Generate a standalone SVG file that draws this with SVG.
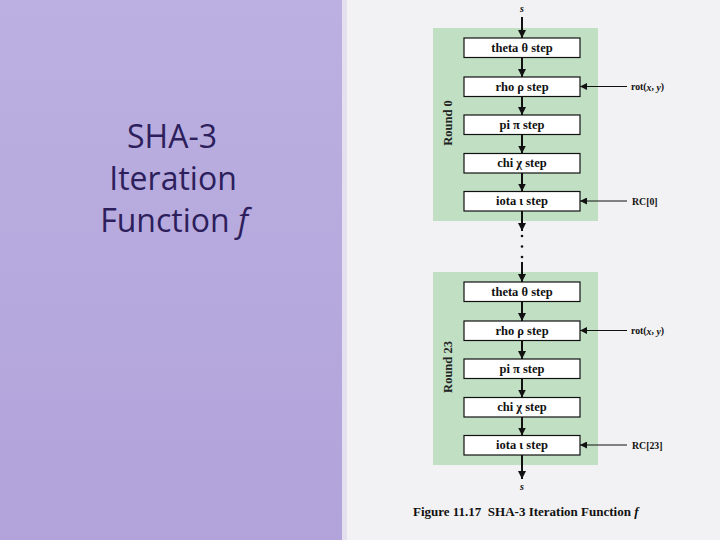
<svg xmlns="http://www.w3.org/2000/svg" width="720" height="540" viewBox="0 0 720 540">
<defs>
<linearGradient id="purp" x1="0" y1="0" x2="0" y2="1">
<stop offset="0" stop-color="#bbb0e1"/>
<stop offset="1" stop-color="#b2a3da"/>
</linearGradient>
<marker id="ah" viewBox="0 0 10 10" refX="10" refY="5" markerWidth="4" markerHeight="4" markerUnits="strokeWidth" orient="auto">
<path d="M0,0 L10,5 L0,10 Z" fill="#111"/>
</marker>
<marker id="ahs" viewBox="0 0 10 10" refX="10" refY="5" markerWidth="7" markerHeight="7" markerUnits="strokeWidth" orient="auto">
<path d="M0,0 L10,5 L0,10 Z" fill="#111"/>
</marker>
</defs>
<style>
.box{fill:#fff;stroke:#111;stroke-width:1.2}
.round{fill:#c0dfc3}
.lbl{font-family:"Liberation Serif",serif;font-weight:bold;font-size:12.5px;fill:#111;text-anchor:middle;dominant-baseline:central}
.side{font-family:"Liberation Serif",serif;font-weight:bold;font-size:9.8px;fill:#111;dominant-baseline:central}
.rl{font-family:"Liberation Serif",serif;font-weight:bold;font-size:12.5px;fill:#222;text-anchor:middle;dominant-baseline:central}
.flow{stroke:#111;stroke-width:2;fill:none;marker-end:url(#ah)}
.inp{stroke:#111;stroke-width:1;fill:none;marker-end:url(#ahs)}
.title{font-family:"Open Sans","Noto Sans",sans-serif;font-size:32px;fill:#2d1e5c;text-anchor:middle}
</style>
<rect x="0" y="0" width="720" height="540" fill="#f2f1f3"/>
<rect x="0" y="0" width="342" height="540" fill="url(#purp)"/>
<rect x="342" y="0" width="5" height="540" fill="#e4e0ef"/>

<g id="title">
<text class="title" x="172" y="148">SHA-3</text>
<text class="title" x="173" y="190">Iteration</text>
<text class="title" x="174" y="232">Function <tspan font-style="italic">f</tspan></text>
</g>

<g id="round0">
<rect class="round" x="433" y="28" width="165" height="193"/>
<text class="rl" transform="translate(448,123) rotate(-90)">Round 0</text>
</g>
<g id="round23">
<rect class="round" x="433" y="272" width="165" height="193"/>
<text class="rl" transform="translate(448,367) rotate(-90)">Round 23</text>
</g>

<g id="r0-theta"><rect class="box" x="464" y="38" width="116" height="19.5"/><text class="lbl" x="522" y="47.5">theta θ step</text></g>
<g id="r0-rho"><rect class="box" x="464" y="77" width="116" height="19.5"/><text class="lbl" x="522" y="86.5">rho ρ step</text></g>
<g id="r0-pi"><rect class="box" x="464" y="115" width="116" height="19.5"/><text class="lbl" x="522" y="124.5">pi π step</text></g>
<g id="r0-chi"><rect class="box" x="464" y="153.5" width="116" height="19.5"/><text class="lbl" x="522" y="163">chi χ step</text></g>
<g id="r0-iota"><rect class="box" x="464" y="191.5" width="116" height="19.5"/><text class="lbl" x="522" y="201">iota ι step</text></g>

<g id="r23-theta"><rect class="box" x="464" y="282" width="116" height="19.5"/><text class="lbl" x="522" y="291.5">theta θ step</text></g>
<g id="r23-rho"><rect class="box" x="464" y="321" width="116" height="19.5"/><text class="lbl" x="522" y="330.5">rho ρ step</text></g>
<g id="r23-pi"><rect class="box" x="464" y="359" width="116" height="19.5"/><text class="lbl" x="522" y="368.5">pi π step</text></g>
<g id="r23-chi"><rect class="box" x="464" y="397.5" width="116" height="19.5"/><text class="lbl" x="522" y="407">chi χ step</text></g>
<g id="r23-iota"><rect class="box" x="464" y="435.5" width="116" height="19.5"/><text class="lbl" x="522" y="445">iota ι step</text></g>

<g id="labels">
<text x="522" y="12" font-family="Liberation Serif,serif" font-style="italic" font-weight="bold" font-size="10" text-anchor="middle" fill="#111">s</text>
<text x="522" y="490" font-family="Liberation Serif,serif" font-style="italic" font-weight="bold" font-size="10" text-anchor="middle" fill="#111">s</text>
<text class="side" x="631" y="86.5">rot(<tspan font-style="italic">x</tspan>, <tspan font-style="italic">y</tspan>)</text>
<text class="side" x="632" y="201">RC[0]</text>
<text class="side" x="631" y="330.5">rot(<tspan font-style="italic">x</tspan>, <tspan font-style="italic">y</tspan>)</text>
<text class="side" x="632" y="445">RC[23]</text>
</g>

<g id="connectors">
<line class="flow" x1="522" y1="17" x2="522" y2="38"/>
<line class="flow" x1="522" y1="57.5" x2="522" y2="77"/>
<line class="flow" x1="522" y1="96.5" x2="522" y2="115"/>
<line class="flow" x1="522" y1="134.5" x2="522" y2="153.5"/>
<line class="flow" x1="522" y1="173" x2="522" y2="191.5"/>
<line class="flow" x1="522" y1="211" x2="522" y2="231"/>
<circle cx="522" cy="236" r="1.3" fill="#111"/>
<circle cx="522" cy="246.5" r="1.3" fill="#111"/>
<circle cx="522" cy="257" r="1.3" fill="#111"/>
<line class="flow" x1="522" y1="262" x2="522" y2="282"/>
<line class="flow" x1="522" y1="301.5" x2="522" y2="321"/>
<line class="flow" x1="522" y1="340.5" x2="522" y2="359"/>
<line class="flow" x1="522" y1="378.5" x2="522" y2="397.5"/>
<line class="flow" x1="522" y1="417" x2="522" y2="435.5"/>
<line class="flow" x1="522" y1="455" x2="522" y2="479"/>
<line class="inp" x1="627" y1="86.5" x2="580" y2="86.5"/>
<line class="inp" x1="627" y1="201" x2="580" y2="201"/>
<line class="inp" x1="627" y1="330.5" x2="580" y2="330.5" stroke="#666"/>
<line class="inp" x1="627" y1="445" x2="580" y2="445"/>
</g>

<g id="caption">
<text x="413" y="516" font-family="Liberation Serif,serif" font-weight="bold" font-size="13" fill="#111" xml:space="preserve">Figure 11.17  SHA-3 Iteration Function <tspan font-style="italic">f</tspan></text>
</g>
</svg>
